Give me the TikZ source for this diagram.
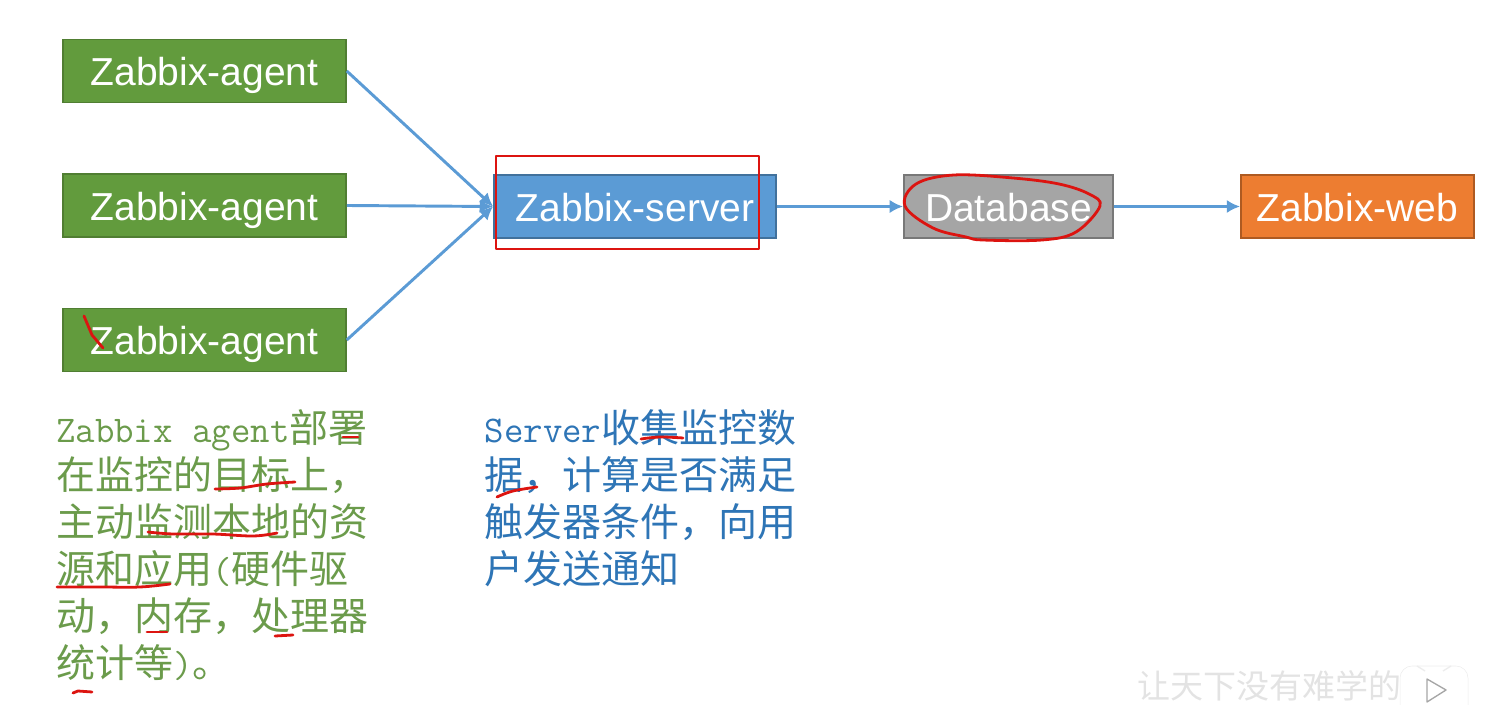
\documentclass[tikz,border=0pt]{standalone}
\usepackage{fontspec}
\setmainfont{Liberation Sans}
\newfontfamily\cjk{Noto Sans CJK SC}
\usetikzlibrary{arrows.meta}
\definecolor{agentgreen}{HTML}{629B3D}
\definecolor{agentedge}{HTML}{507E32}
\definecolor{serverblue}{HTML}{5B9BD5}
\definecolor{serveredge}{HTML}{41719C}
\definecolor{dbgray}{HTML}{A5A5A5}
\definecolor{dbedge}{HTML}{787878}
\definecolor{weborange}{HTML}{ED7D31}
\definecolor{webedge}{HTML}{AE5A21}
\definecolor{notegreen}{HTML}{6B9B4B}
\definecolor{noteblue}{HTML}{2E75B6}
\definecolor{penred}{HTML}{DC1410}
\tikzset{
  box/.style={draw, line width=1.4pt, inner sep=0pt, minimum height=47.25pt, text height=22pt, text depth=0pt, text=white, font=\fontsize{29.25}{32}\selectfont},
  link/.style={draw=serverblue, line width=2.2pt, -{Latex[length=10pt,width=10pt]}},
  note/.style={anchor=north west, align=left, inner sep=0pt, font=\fontsize{29.25}{35.25}\selectfont\cjk},
  pen/.style={draw=penred, line width=2.1pt, line cap=round, line join=round},
}
\newcommand{\lat}[1]{{\fontsize{28.3}{35.25}\selectfont\ttfamily #1}}
\begin{document}
\begin{tikzpicture}[x=0.75pt, y=-0.75pt]
  \useasboundingbox (0,0) rectangle (1487,705);
  \node[box, fill=agentgreen, draw=agentedge, minimum width=212pt] (agent1) at (204.5,71) {Zabbix-agent};
  \node[box, fill=agentgreen, draw=agentedge, minimum width=212pt] (agent2) at (204.5,205.5) {Zabbix-agent};
  \node[box, fill=agentgreen, draw=agentedge, minimum width=212pt] (agent3) at (204.5,340) {Zabbix-agent};
  \node[box, fill=serverblue, draw=serveredge, minimum width=211.5pt] (server) at (635,206.5) {Zabbix-server};
  \node[box, fill=dbgray, draw=dbedge, minimum width=156.75pt] (db) at (1008.5,206.5) {Database};
  \node[box, fill=weborange, draw=webedge, minimum width=174.75pt] (web) at (1357.5,206.5) {Zabbix-web};
  % Draw the links
  \draw[link] (agent1.east) -- (server.west);
  \draw[link] (agent2.east) -- (server.west);
  \draw[link] (agent3.east) -- (server.west);
  \draw[link] (server) -- (db);
  \draw[link] (db) -- (web);
  % Notes below the boxes
  \node[note, text=notegreen] (agentnote) at (56,409) {\lat{Zabbix agent}部署\\在监控的目标上，\\主动监测本地的资\\源和应用\lat{(}硬件驱\\动，内存，处理器\\统计等\lat{)}。};
  \node[note, text=noteblue] (servernote) at (484.5,409) {\lat{Server}收集监控数\\据，计算是否满足\\触发器条件，向用\\户发送通知};
  % Watermark
  \node[anchor=west, inner sep=0pt, text=black!11, font=\fontsize{24.75}{28}\selectfont\cjk] (mark) at (1137,686) {让天下没有难学的};
  \node[draw=black!7, fill=white, rounded corners=9pt, minimum width=51pt, minimum height=42pt, inner sep=0pt] (icon) at (1434,694) {};
  \draw[draw=black!7, line width=1pt] (1417,666) -- (1425,671) (1451,666) -- (1443,671);
  \draw[draw=black!35, line width=1pt, line join=round] (1427,679) -- (1446,690) -- (1427,702) -- cycle;
  % Red pen marks
  \draw[pen] (496,156) rectangle (759,249);
  \draw[pen] plot[smooth cycle, tension=0.6] coordinates {(905,206) (916,184) (954,175) (1013,178) (1059,184) (1089,194) (1100,206) (1076,232) (1042,240) (983,240) (966,237) (933,228)};
  \draw[pen] (84,316) -- (92,335) -- (103,348);
  \draw[pen] (343,437) -- (358,437);
  \draw[pen] plot[smooth, tension=0.6] coordinates {(215,489) (240,488) (267,484) (295,482)};
  \draw[pen] plot[smooth, tension=0.6] coordinates {(148,532) (173,534) (213,534) (253,536) (277,533)};
  \draw[pen] plot[smooth, tension=0.6] coordinates {(57,587) (100,587) (140,587) (170,584)};
  \draw[pen] (147,632) -- (167,632);
  \draw[pen] (275,636) -- (293,635);
  \draw[pen] (73,693) -- (78,691) -- (92,692);
  \draw[pen] plot[smooth, tension=0.6] coordinates {(641,439) (660,437) (683,438)};
  \draw[pen] plot[smooth, tension=0.6] coordinates {(497,497) (513,491) (537,487)};
\end{tikzpicture}
\end{document}
